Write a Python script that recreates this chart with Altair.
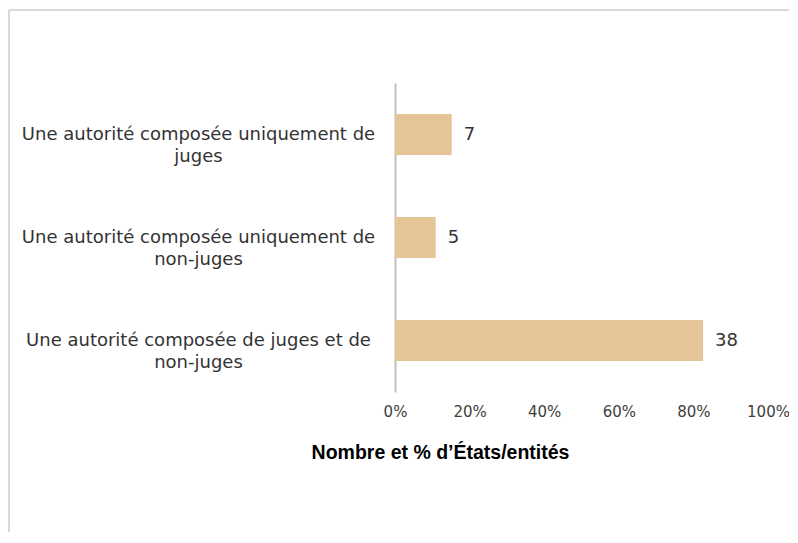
import altair as alt
import pandas as pd

categories = [
    "Une autorité composée uniquement de\njuges",
    "Une autorité composée uniquement de\nnon-juges",
    "Une autorité composée de juges et de\nnon-juges",
]
counts = [7, 5, 38]
percents = [15.2, 10.9, 82.6]
x_ticks = [0, 20, 40, 60, 80, 100]
x_title = "Nombre et % d\u2019États/entités"

df = pd.DataFrame({"cat": categories, "count": counts, "pct": percents})

FONT = "DejaVu Sans"

x = alt.X(
    "pct:Q",
    scale=alt.Scale(domain=[0, 100], nice=False, zero=True),
    axis=alt.Axis(
        values=x_ticks,
        labelExpr="datum.value + '%'",
        domain=False,
        ticks=False,
        grid=False,
        labelFlush=False,
        labelPadding=12,
        labelFontSize=15,
        labelFont=FONT,
        labelColor="#404040",
        title=x_title,
        titleFont="Liberation Sans",
        titleFontWeight="bold",
        titleFontSize=19.5,
        titleColor="#000000",
        titleX=45,
        titleY=60,
        titleAlign="center",
        titleBaseline="middle",
    ),
)
y = alt.Y(
    "cat:N",
    sort=categories,
    scale=alt.Scale(paddingInner=0.6, paddingOuter=0.3),
    axis=alt.Axis(
        title=None,
        domainColor="#bfbfbf",
        domainWidth=2,
        ticks=False,
        tickSize=0,
        grid=False,
        labelExpr="split(datum.value, '\\n')",
        labelAlign="center",
        labelBaseline="middle",
        labelPadding=197,
        labelLimit=600,
        labelFontSize=18,
        labelFont=FONT,
        labelColor="#333333",
        labelLineHeight=22,
    ),
)

base = alt.Chart(df)
bars = base.mark_bar(color="#E5C597").encode(x=x, y=y)
texts = base.mark_text(align="left", baseline="middle", dx=12, fontSize=18, font=FONT, color="#333333").encode(
    x="pct:Q", y=alt.Y("cat:N", sort=categories), text="count:Q"
)

frame_df = pd.DataFrame({"a": [0]})
vline = alt.Chart(frame_df).mark_rule(color="#d9d9d9", strokeWidth=2).encode(
    x=alt.value(-386), y=alt.value(-73), y2=alt.value(460)
)
hline = alt.Chart(frame_df).mark_rule(color="#d9d9d9", strokeWidth=2).encode(
    x=alt.value(-386), x2=alt.value(400), y=alt.value(-73)
)

chart = (
    alt.layer(bars, texts, vline, hline)
    .properties(
        width=373,
        height=309,
        autosize=alt.AutoSizeParams(type="none"),
        padding={"left": 387, "top": 75, "right": 21, "bottom": 140},
    )
    .configure(background="white")
    .configure_view(strokeWidth=0, stroke=None)
)

chart.save("out.html", embed_options={"renderer": "svg", "actions": False})
